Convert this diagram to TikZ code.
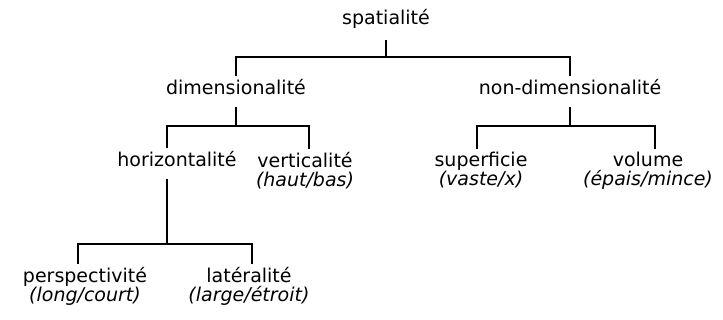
\documentclass[tikz,border=0pt]{standalone}
\usepackage{fontspec}
\setmainfont{DejaVu Sans}
\newcommand\termfont{\fontsize{19}{18.5}\selectfont\lineskiplimit=-30pt\relax}

\begin{document}
\begin{tikzpicture}[x=1pt, y=-1pt]
\tikzset{
	term/.style = {
		anchor=north, inner sep=3pt, align=center,
		font=\termfont
	},
	every path/.style={
		line width=1.1pt
	},
}
\useasboundingbox (0,0) rectangle (723,320);

% the terms
\node [term] (sp)   at (386, 6)   {spatialité};
\node [term] (dim)  at (236, 76)  {dimensionalité};
\node [term] (ndim) at (570, 76)  {non-dimensionalité};

\node [term] (hz)   at (177, 148) {horizontalité};
\node [term] (vt)   at (305, 149) {verticalité\\\itshape(haut/bas)};
\node [term] (sf)   at (481, 149) {superficie\\\itshape(vaste/x)};
\node [term] (vol)  at (648, 149) {volume\\\itshape(épais/mince)};

\node [term] (pe)   at (85, 264)  {perspectivité\\\itshape(long/court)};
\node [term] (la)   at (249, 264) {latéralité\\\itshape(large/étroit)};

% junctions of the branches
\coordinate (j1) at (386, 57);
\coordinate (j2) at (236, 126);
\coordinate (j3) at (570, 126);
\coordinate (j4) at (167, 244);

% attach them
\draw ([yshift=-8pt]sp.south) -- (j1);
\draw (dim.north) |- (j1) -| (ndim.north);

\draw ([yshift=-8pt]dim.south) -- (j2);
\draw ([xshift=-10pt]hz.north) |- (j2) -| ([xshift=4pt]vt.north);

\draw ([yshift=-8pt]ndim.south) -- (j3);
\draw ([xshift=-4pt]sf.north) |- (j3) -| ([xshift=7pt]vol.north);

\draw ([xshift=-10pt, yshift=-8pt]hz.south) -- (j4);
\draw ([xshift=-7pt]pe.north) |- (j4) -| ([xshift=3pt]la.north);

\end{tikzpicture}
\end{document}
